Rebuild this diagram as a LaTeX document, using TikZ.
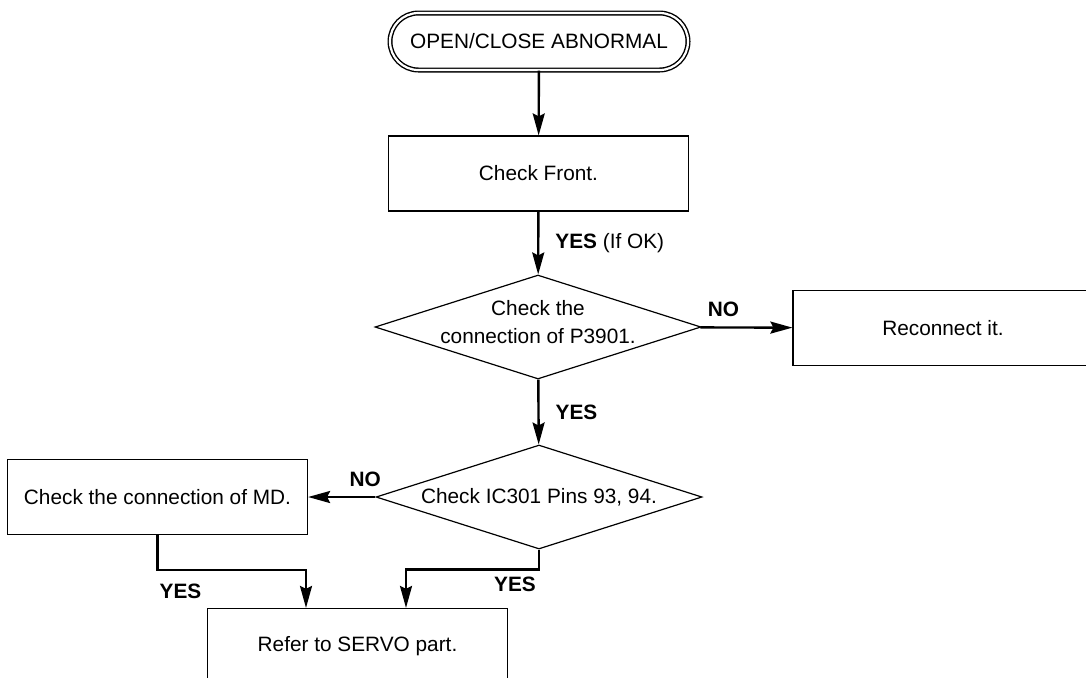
\documentclass[tikz,border=0pt]{standalone}
\usepackage{fontspec}
\setmainfont{Liberation Sans}
\usetikzlibrary{shapes.geometric,arrows.meta,positioning}

\begin{document}
\begin{tikzpicture}[x=0.5pt,y=-0.5pt]
    \tikzstyle{every node}=[font=\fontsize{10.4}{13.8}\selectfont]
    \tikzstyle{stepbox}=[rectangle, draw, line width=0.6pt, minimum width=150pt, minimum height=37.5pt, inner sep=0pt]
    \tikzstyle{termbox}=[rectangle, rounded corners=14.25pt, draw, double, double distance=1.1pt, line width=0.7pt, minimum width=149pt, minimum height=28.5pt]
    \tikzstyle{askbox}=[diamond, draw, line width=0.6pt, minimum width=163pt, minimum height=52pt, aspect=3.13, inner sep=0pt, align=center]
    \tikzstyle{flow}=[-{Stealth[length=11pt,width=6pt,inset=1.5pt]}, line width=1.2pt]
    \tikzstyle{answer}=[font=\fontsize{10.4}{13.8}\selectfont\bfseries, inner sep=0pt]

    \clip (0,0) rectangle (1086,677);

    \node[termbox] (start) at (539,41.5) {OPEN/CLOSE ABNORMAL};
    \node[stepbox] (front) at (538.5,173.5) {Check Front.};
    \node[askbox] (p3901) at (538,327) {};
    \node[inner sep=0pt, align=center] (p3901text) at (538,322) {Check the\\connection of P3901.};
    \node[stepbox] (reconnect) at (943,328) {Reconnect it.};
    \node[askbox] (pins) at (539,497) {Check IC301 Pins 93, 94.};
    \node[stepbox] (md) at (157.5,497) {Check the connection of MD.};
    \node[stepbox] (servo) at (357.5,646) {Refer to SERVO part.};

    \draw[flow] (start) -- (front);
    \draw[flow] (front) -- node[inner sep=0pt, right=8pt] {\textbf{YES} (If OK)} (p3901);
    \draw[flow] (p3901) -- node[answer, pos=0.25, above=5pt] {NO} (reconnect);
    \draw[flow] (p3901) -- node[answer, right=8pt] {YES} (pins);
    \draw[flow] (pins.west) -- node[answer, pos=0.15, above=4.75pt] {NO} (md.east);
    \draw[flow] (md.south) -- ++(0,35) node[answer, below right=6.5pt and 0.5pt] {YES} -| ([xshift=-25.75pt]servo.north);
    \draw[flow] (pins.south) -- ++(0,20) node[answer, below left=3pt and 1pt] {YES} -| ([xshift=24.25pt]servo.north);
\end{tikzpicture}
\end{document}
